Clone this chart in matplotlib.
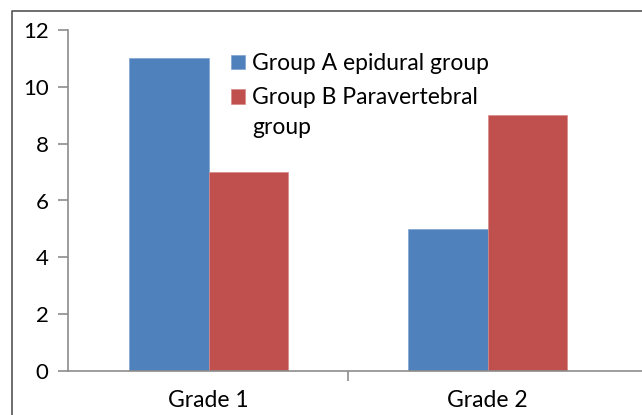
import matplotlib.pyplot as plt
from matplotlib.lines import Line2D
import numpy as np

categories = ["Grade 1", "Grade 2"]
group_a = [11, 5]
group_b = [7, 9]
labels = ["Group A epidural group", "Group B Paravertebral", "group"]
colors = ["#4F81BD", "#C0504D"]

plt.rcParams['font.family'] = ['Lato', 'DejaVu Sans']

W, H = 642, 415
fig = plt.figure(figsize=(W / 100, H / 100), dpi=100)
ax = fig.add_axes([68 / W, (H - 371) / H, (660 - 68) / W, (371 - 30) / H])

x = np.arange(len(categories))
width = 0.285
ax.bar(x - width / 2, group_a, width, color=colors[0], label=labels[0],
       edgecolor="#7FA3D0", linewidth=0.5)
ax.bar(x + width / 2, group_b, width, color=colors[1], label=labels[1],
       edgecolor="#D98A88", linewidth=0.5)

ax.set_xlim(-0.504, (660 - 208.5) / 279)
ax.set_ylim(0, 12)
ax.set_yticks(range(0, 13, 2))
ax.set_xticks(x)
ax.set_xticklabels(categories)
ax.set_xticks([0.5], minor=True)

for s in ["top", "right"]:
    ax.spines[s].set_visible(False)
for s in ["left", "bottom"]:
    ax.spines[s].set_color("#8C8C8C")
    ax.spines[s].set_linewidth(1.2)

ax.tick_params(axis="y", length=7, width=1.2, color="#8C8C8C", labelsize=16, pad=7)
ax.tick_params(axis="x", which="major", length=0, labelsize=16.5, pad=14)
ax.tick_params(axis="x", which="minor", length=7, width=1.2, color="#8C8C8C")

leg = ax.legend(loc="upper left", bbox_to_anchor=(231 / W, (H - 53) / H),
                bbox_transform=fig.transFigure, frameon=False, fontsize=16.5,
                handlelength=0.62, handleheight=0.62, handletextpad=0.3,
                labelspacing=0.58, borderaxespad=0, borderpad=0)
# wrapped second line of the legend label
fig.text(252 / W, (H - 127) / H, labels[2], fontsize=16.5, va="center", ha="left")

# outer frame of the chart area (left and top edges visible)
fig.add_artist(Line2D([12 / W, 12 / W, 1.0], [0, (H - 11) / H, (H - 11) / H],
                      transform=fig.transFigure, color="#555555", linewidth=1.2))

plt.savefig("out.png", dpi=100)
